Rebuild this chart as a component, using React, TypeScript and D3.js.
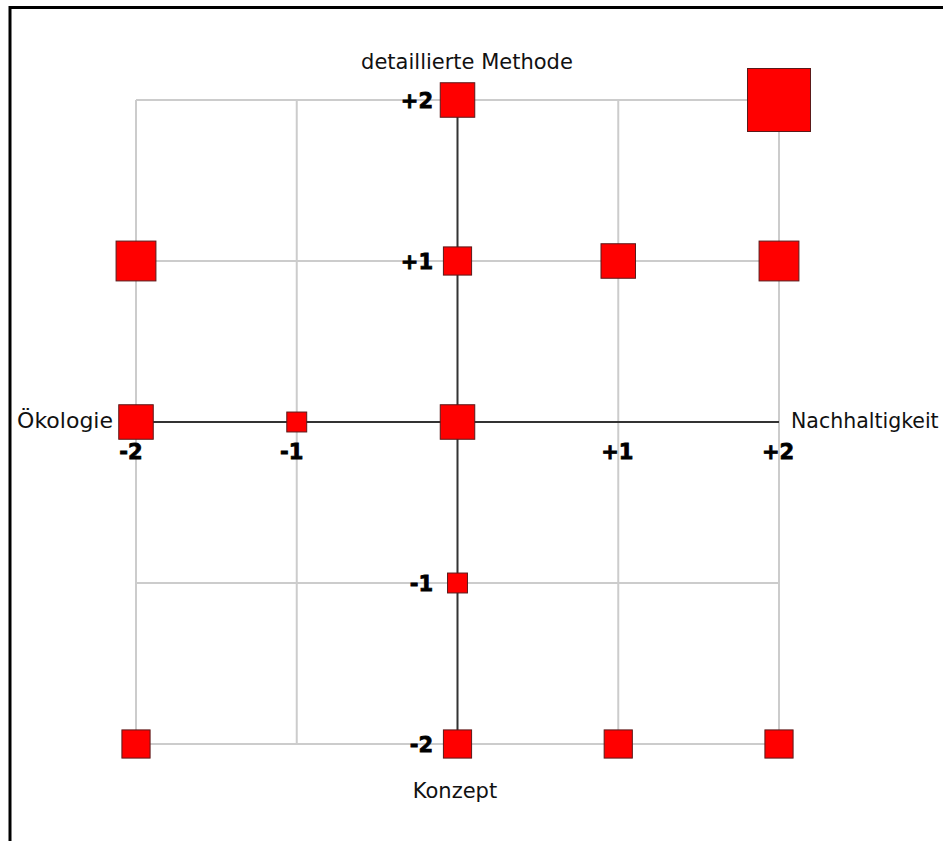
import React from "react";
import * as d3 from "d3";

const ticks = [-2, -1, 0, 1, 2];
const xTickLabels = ["-2", "-1", "", "+1", "+2"];
const yTickLabels = ["-2", "-1", "", "+1", "+2"];

const pointX = [2, 0, -2, 0, 1, 2, -2, -1, 0, 0, -2, 0, 1, 2];
const pointY = [2, 2, 1, 1, 1, 1, 0, 0, 0, -1, -2, -2, -2, -2];
const pointCount = [10, 3, 4, 2, 3, 4, 3, 1, 3, 1, 2, 2, 2, 2];

const axisTitles = {
  top: "detaillierte Methode",
  bottom: "Konzept",
  left: "Ökologie",
  right: "Nachhaltigkeit",
};

const W = 943;
const H = 841;

export default function App() {
  const x = d3.scaleLinear().domain([-2, 2]).range([136, 779]);
  const y = d3.scaleLinear().domain([-2, 2]).range([744, 100]);
  const s = d3.scaleSqrt().domain([0, 10]).range([0, 63]);
  const font = "'DejaVu Sans', Verdana, sans-serif";

  return (
    <svg
      width={W}
      height={H}
      style={{ position: "absolute", left: 0, top: 0, background: "#fff" }}
    >
      {/* frame */}
      <line x1={10} y1={7.5} x2={W} y2={7.5} stroke="#000" strokeWidth={3} />
      <line x1={10} y1={6} x2={10} y2={H} stroke="#000" strokeWidth={3} />

      {/* grid */}
      {ticks.filter((t) => t !== 0).map((t) => (
        <line
          key={"gv" + t}
          x1={x(t)}
          x2={x(t)}
          y1={y(2)}
          y2={y(-2)}
          stroke="#cccccc"
          strokeWidth={2}
        />
      ))}
      {ticks.filter((t) => t !== 0).map((t) => (
        <line
          key={"gh" + t}
          x1={x(-2)}
          x2={x(2)}
          y1={y(t)}
          y2={y(t)}
          stroke="#cccccc"
          strokeWidth={2}
        />
      ))}

      {/* axes */}
      <line x1={x(-2)} x2={x(2)} y1={y(0)} y2={y(0)} stroke="#333" strokeWidth={2} />
      <line x1={x(0)} x2={x(0)} y1={y(2)} y2={y(-2)} stroke="#333" strokeWidth={2} />

      {/* squares */}
      {pointX.map((px, i) => {
        const side = s(pointCount[i]);
        return (
          <rect
            key={"p" + i}
            x={x(px) - side / 2}
            y={y(pointY[i]) - side / 2}
            width={side}
            height={side}
            fill="#ff0000"
            stroke="#5a1a1a"
            strokeWidth={1}
          />
        );
      })}

      {/* x tick labels */}
      {ticks.map((t, i) =>
        xTickLabels[i] ? (
          <text
            key={"xt" + t}
            x={x(t) - (t < 0 ? 5 : 1)}
            y={459}
            textAnchor="middle"
            fontFamily={font}
            fontWeight="bold"
            fontSize={21}
            fill="#000"
            stroke="#000"
            strokeWidth={0.8}
          >
            {xTickLabels[i]}
          </text>
        ) : null
      )}

      {/* y tick labels */}
      {ticks.map((t, i) =>
        yTickLabels[i] ? (
          <text
            key={"yt" + t}
            x={433}
            y={y(t) + 8}
            textAnchor="end"
            fontFamily={font}
            fontWeight="bold"
            fontSize={21}
            fill="#000"
            stroke="#000"
            strokeWidth={0.8}
          >
            {yTickLabels[i]}
          </text>
        ) : null
      )}

      {/* axis titles */}
      <text x={467} y={69} textAnchor="middle" fontFamily={font} fontSize={21} fill="#111">
        {axisTitles.top}
      </text>
      <text x={455} y={798} textAnchor="middle" fontFamily={font} fontSize={21} fill="#111">
        {axisTitles.bottom}
      </text>
      <text x={113} y={428} textAnchor="end" fontFamily={font} fontSize={22} fill="#111">
        {axisTitles.left}
      </text>
      <text x={791} y={428} textAnchor="start" fontFamily={font} fontSize={20.5} fill="#111">
        {axisTitles.right}
      </text>
    </svg>
  );
}
